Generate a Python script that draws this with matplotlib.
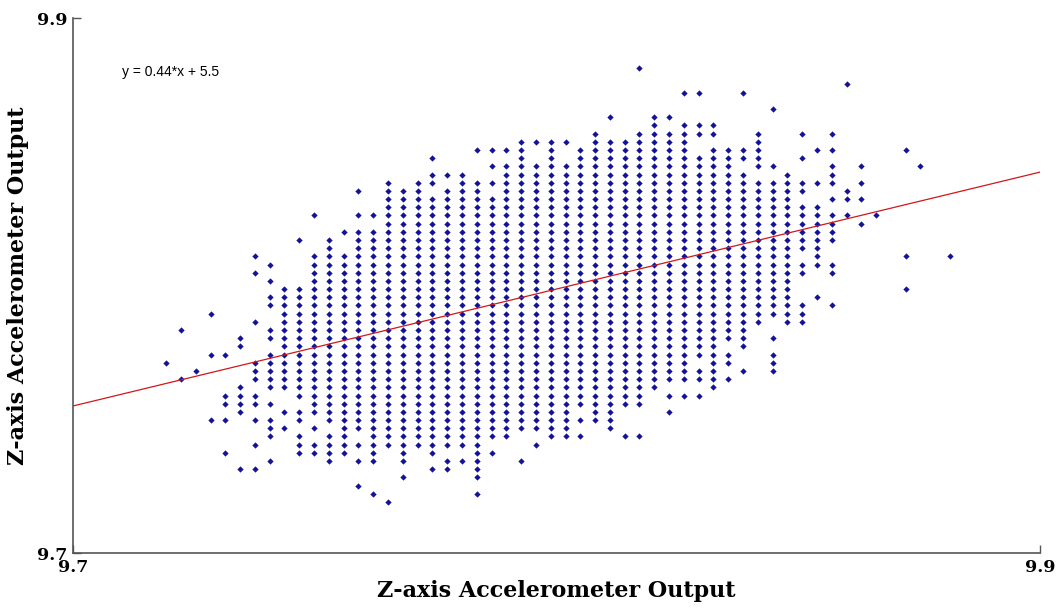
import numpy as np
import matplotlib
matplotlib.use('Agg')
import matplotlib.pyplot as plt

# readings are quantized: both axes step by the same amount
STEP = 0.00306
BASE = 9.7192

# rows present in each column (row index above BASE)
col_rows = [
    "17", "15,21", "16", "10,18,23", "6,10,12,13,18",
    "4,11-14,19,20", "4,7,10,12,13,15-17,22,28,30",
    "5,8-10,12,14-18,20,21,24,25,27,29", "9,11,14-26",
    "6-8,10,11,13-26,32", "6,7,9,11-30,35", "5-8,10-32", "6-30,33",
    "2,5,7,9-33,35,38", "1,5-33,35", "0,7-39", "3,5-38", "7-39",
    "4,6-37,39,40,42", "4,5,7-38,40", "5,7-40", "1,3-39,43",
    "6,8-37,39,41,43", "8-41,43", "5,9-44", "7,9-41,44", "8-44",
    "8-41,44", "8,10,12-43", "10-45", "9-44,47", "8,12-44", "8,12-45,53",
    "14-47", "11,13,15-45,47", "13,15-46,50", "13,15,16,18-42,45,46,50",
    "14-43,45,46", "15,17,18,20-43", "16,19-40,42,43,50", "22-39,41-45",
    "16-18,20,23-39,41,48", "22-40", "22-24,28,29,31-36,38,39,42,45",
    "25,29-36,39,43", "24,28,29,32-35,37,39-41,43,45", "35,37,38,51",
    "34,37,39,41", "35", "", "26,30,43", "41", "", "30",
]

# fitted line as drawn (label shows rounded coefficients)
fit = [0.437, 5.5162]
fit_label = 'y = 0.44*x + 5.5'


def parse(spec):
    rows = []
    for part in spec.split(','):
        if not part:
            continue
        if '-' in part:
            a, b = part.split('-')
            rows.extend(range(int(a), int(b) + 1))
        else:
            rows.append(int(part))
    return rows


xs, ys = [], []
for c, spec in enumerate(col_rows):
    for r in parse(spec):
        xs.append(BASE + c * STEP)
        ys.append(BASE + r * STEP)

fig = plt.figure(figsize=(10.6, 6.1), dpi=100)
ax = fig.add_axes([0.0692, 0.0930, 0.912, 0.877])

ax.plot(xs, ys, 'D', color='#12129a', markersize=3.2, markeredgewidth=0)
lx = np.array([9.7, 9.9])
ax.plot(lx, np.polyval(fit, lx), color='#d01818', linewidth=0.9)

ax.set_xlim(9.7, 9.9)
ax.set_ylim(9.7, 9.9)
ax.set_xticks([9.7, 9.9])
ax.set_yticks([9.7, 9.9])
ax.set_xticklabels(['9.7', '9.9'])
ax.set_yticklabels(['9.7', '9.9'])
ax.tick_params(direction='in', length=6, width=1, color='#555555', pad=4)
for lab in ax.get_xticklabels() + ax.get_yticklabels():
    lab.set_fontfamily('DejaVu Serif')
    lab.set_fontweight('bold')
    lab.set_fontsize(12.5)

for side in ['top', 'right']:
    ax.spines[side].set_visible(False)
for side in ['left', 'bottom']:
    ax.spines[side].set_color('#555555')
    ax.spines[side].set_linewidth(1.2)

ax.set_xlabel('Z-axis Accelerometer Output', fontfamily='DejaVu Serif',
              fontweight='bold', fontsize=16, labelpad=3)
ax.set_ylabel('Z-axis Accelerometer Output', fontfamily='DejaVu Serif',
              fontweight='bold', fontsize=16, labelpad=6)

ax.text(0.0504, 0.8996, fit_label, transform=ax.transAxes,
        fontsize=10, va='center', ha='left', fontfamily='Liberation Sans')

fig.savefig('out.png', dpi=100)
